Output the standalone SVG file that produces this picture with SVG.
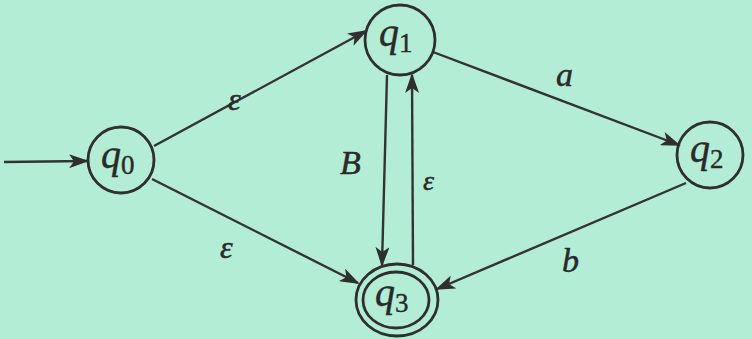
<svg xmlns="http://www.w3.org/2000/svg" width="752" height="339" viewBox="0 0 752 339">
<style>
.st{fill:none;stroke:#2f2f2f;stroke-width:2.8}
.ed{fill:none;stroke:#333;stroke-width:2.4}
.q{font-family:"Liberation Serif",serif;font-style:italic;font-size:40px;fill:#2a2a2a;stroke:#2a2a2a;stroke-width:0.4}
.s{font-family:"Liberation Serif",serif;font-size:27px;font-style:normal}
.lb{font-family:"Liberation Serif",serif;font-style:italic;fill:#2a2a2a;stroke:#2a2a2a;stroke-width:0.5}
</style>
<defs>
<marker id="ah" viewBox="0 0 20 14" refX="18" refY="7" markerWidth="20" markerHeight="14" markerUnits="userSpaceOnUse" orient="auto">
<path d="M0,0 L20,7 L0,14 L5,7 Z" fill="#2f2f2f"/>
</marker>
</defs>
<rect width="752" height="339" fill="#b4edd5"/>
<g id="edges">
<line class="ed" x1="4" y1="162" x2="87" y2="161" marker-end="url(#ah)"/>
<line class="ed" x1="154" y1="146" x2="366" y2="31" marker-end="url(#ah)"/>
<line class="ed" x1="152" y1="179" x2="358" y2="283" marker-end="url(#ah)"/>
<line class="ed" x1="433" y1="52" x2="679" y2="145" marker-end="url(#ah)"/>
<line class="ed" x1="686" y1="183" x2="437" y2="289" marker-end="url(#ah)"/>
<line class="ed" x1="387" y1="75" x2="382" y2="265" marker-end="url(#ah)"/>
<line class="ed" x1="413" y1="265" x2="412" y2="75" marker-end="url(#ah)"/>
<text class="lb" x="228" y="110" font-size="32">ε</text>
<text class="lb" x="220" y="258" font-size="32">ε</text>
<text class="lb" x="556" y="86" font-size="34">a</text>
<text class="lb" x="562" y="272" font-size="34">b</text>
<text class="lb" x="340" y="174" font-size="34">B</text>
<text class="lb" x="423" y="190" font-size="28">ε</text>
</g>
<g id="q0">
<circle class="st" cx="121" cy="160" r="33"/>
<text class="q" x="101" y="168">q<tspan class="s" dy="6">0</tspan></text>
</g>
<g id="q1">
<circle class="st" cx="400" cy="40" r="35"/>
<text class="q" x="379" y="46">q<tspan class="s" dy="6">1</tspan></text>
</g>
<g id="q2">
<circle class="st" cx="710" cy="155" r="33"/>
<text class="q" x="690" y="162">q<tspan class="s" dy="6">2</tspan></text>
</g>
<g id="q3">
<ellipse class="st" cx="397" cy="300" rx="41" ry="36"/>
<ellipse class="st" cx="396" cy="300" rx="33" ry="28"/>
<text class="q" x="375" y="306">q<tspan class="s" dy="6">3</tspan></text>
</g>
</svg>
